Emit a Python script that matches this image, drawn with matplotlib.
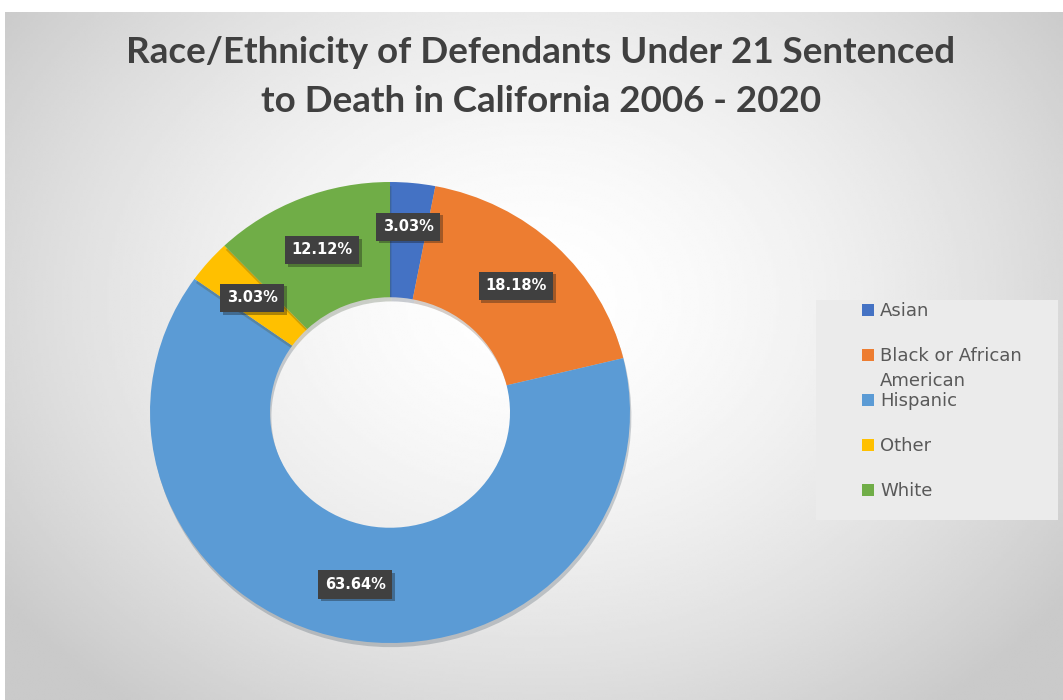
import numpy as np
import matplotlib.pyplot as plt
import matplotlib.patheffects as pe
from matplotlib.patches import Patch, Rectangle

# data
groups = ["Asian", "Black or African American", "Hispanic", "Other", "White"]
counts = [1, 6, 21, 1, 4]
colors = ["#4472C4", "#ED7D31", "#5B9BD5", "#FFC000", "#70AD47"]
title = "Race/Ethnicity of Defendants Under 21 Sentenced\nto Death in California 2006 - 2020"

W, H = 1063, 700
fig = plt.figure(figsize=(W / 100, H / 100), dpi=100)

# radial grey background like the excel chart area
bg = fig.add_axes([5 / W, 0, 1 - 5 / W, 1 - 12 / H], zorder=-5)
gx, gy = np.meshgrid(np.linspace(0, 1, 400), np.linspace(0, 1, 300))
d = np.sqrt(((gx - 0.5) / 0.62) ** 2 + ((gy - 0.42) / 0.75) ** 2)
shade = 1 - 0.21 * np.clip(d, 0, 1) ** 1.6
bg.imshow(shade, cmap="gray", vmin=0, vmax=1, aspect="auto",
          extent=[0, 1, 1, 0], interpolation="bilinear")
bg.set_axis_off()

fig.text(541 / W, 1 - 77 / H, title, ha="center", va="center",
         fontsize=26.5, fontweight="bold", color="#404040",
         family="Lato", linespacing=1.58)

# donut (slightly wider than tall, like the source)
RX, RY = 240, 230.5
cx, cy = 390, 412.5
ax = fig.add_axes([(cx - RX) / W, (H - cy - RY) / H, 2 * RX / W, 2 * RY / H])
wedges, texts, autotexts = ax.pie(
    counts, colors=colors, startangle=90, counterclock=False,
    wedgeprops=dict(width=0.5, edgecolor="none"),
    autopct="%.2f%%", pctdistance=0.76)
for w in wedges:
    w.set_path_effects([pe.SimplePatchShadow(offset=(1, -3), alpha=0.22), pe.Normal()])
for t in autotexts:
    t.set_color("white")
    t.set_fontweight("bold")
    t.set_fontsize(10.5)
    t.set_bbox(dict(boxstyle="square,pad=0.45", facecolor="#404040", edgecolor="none"))
    t.get_bbox_patch().set_path_effects(
        [pe.SimplePatchShadow(offset=(2, -2), alpha=0.35), pe.Normal()])
# the small first label sits a bit further out
px, py = autotexts[0].get_position()
autotexts[0].set_position((px * 0.81 / 0.76, py * 0.81 / 0.76))
ax.set_aspect("auto")
ax.set_xlim(-1, 1)
ax.set_ylim(-1, 1)

# legend box
fig.patches.append(Rectangle((816 / W, 1 - 520 / H), 242 / W, 220 / H,
                             transform=fig.transFigure, facecolor="#ebebeb",
                             edgecolor="none", zorder=-1))

first_lines = [g if g != "Black or African American" else "Black or African" for g in groups]
handles = [Patch(facecolor=c, edgecolor="none") for c in colors]
leg = fig.legend(handles, first_lines, loc="upper left",
                 bbox_to_anchor=(862 / W, 1 - 302 / H),
                 frameon=False, fontsize=13, labelcolor="#595959",
                 labelspacing=1.5, handlelength=0.67, handleheight=0.67,
                 handletextpad=0.33, borderpad=0, borderaxespad=0)

# wrapped second line of the long label
fig.canvas.draw()
bb = leg.get_texts()[1].get_window_extent()
fig.text(bb.x0 / W, (bb.y0 - 25) / H, "American", ha="left", va="bottom",
         fontsize=13, color="#595959")

fig.savefig("out.png", dpi=100)
